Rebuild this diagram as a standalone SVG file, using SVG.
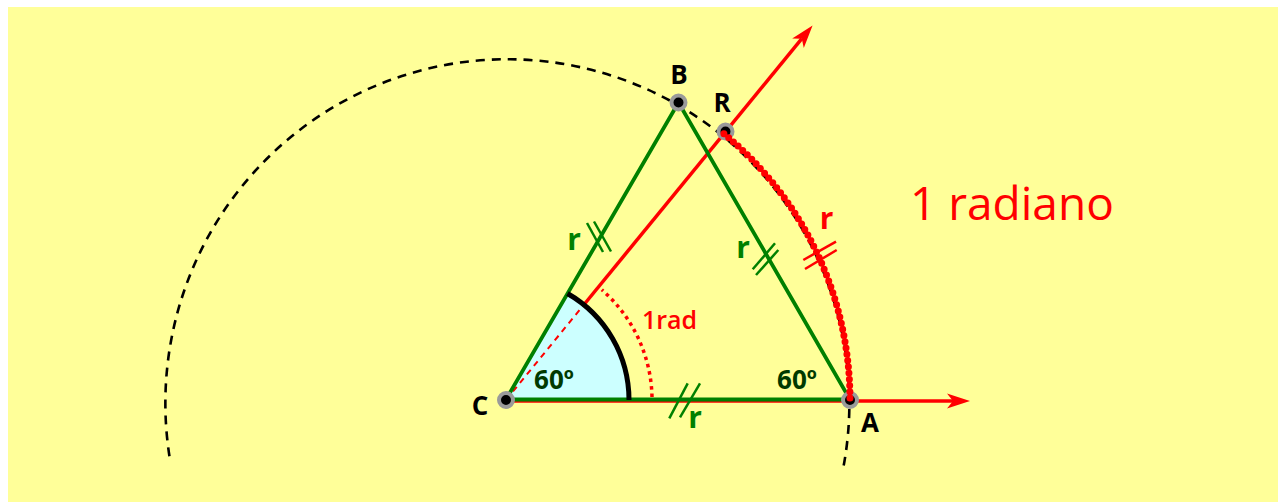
<svg xmlns="http://www.w3.org/2000/svg" width="1278" height="502" viewBox="0 0 1278 502">
<style>
.lbl{font-family:"Open Sans","DejaVu Sans",sans-serif;font-weight:bold;font-size:26px;fill:#000;text-anchor:middle}
.rg{font-family:"Open Sans","DejaVu Sans",sans-serif;font-weight:bold;font-size:30px;fill:#008000;text-anchor:middle}
.rr{font-family:"Open Sans","DejaVu Sans",sans-serif;font-weight:bold;font-size:30px;fill:#ff0000;text-anchor:middle}
.ang{font-family:"Open Sans","DejaVu Sans",sans-serif;font-weight:bold;font-size:26px;fill:#003a00;text-anchor:middle}
.hg{stroke:#008000;stroke-width:2.5;fill:none}
.hr{stroke:#ff0000;stroke-width:2.5;fill:none}
.pt{fill:#000;stroke:#9a9a9a;stroke-width:4}
</style>
<defs>
<marker id="arr" markerUnits="userSpaceOnUse" viewBox="-8 -9 26 18" refX="0" refY="0" markerWidth="26" markerHeight="18" orient="auto" overflow="visible">
<path d="M17,0 L-6,-7.5 L0,0 L-6,7.5 Z" fill="#ff0000"/>
</marker>
</defs>
<rect x="8" y="7" width="1270" height="495" fill="#ffff99"/>
<path id="sector" d="M506,400 L630,400 A124,124 0 0 0 568,292.6 Z" fill="#ccffff"/>
<g id="connectors">
<path d="M843.7,465.6 A342,344 0 1 0 170,459.7" fill="none" stroke="#000" stroke-width="2.6" stroke-dasharray="9 7"/>
<line x1="506" y1="401" x2="953" y2="401" stroke="#ff0000" stroke-width="3.5" marker-end="url(#arr)"/>
<line x1="506" y1="400" x2="584.5" y2="304" stroke="#ff0000" stroke-width="2" stroke-dasharray="6 5"/>
<line x1="584.5" y1="304" x2="801.8" y2="38.7" stroke="#ff0000" stroke-width="3.5" marker-end="url(#arr)"/>
<polygon points="506,399.5 678.5,102.5 850,399.5" fill="none" stroke="#008000" stroke-width="3.8"/>
<path d="M629,400 A123,123 0 0 0 567.5,293.5" fill="none" stroke="#000" stroke-width="5"/>
<path d="M652,397 A146,146 0 0 0 601.8,289.8" fill="none" stroke="#ff0000" stroke-width="3.5" stroke-dasharray="3.5 4"/>
<line class="hg" x1="587" y1="223" x2="603" y2="252"/>
<line class="hg" x1="594" y1="221.5" x2="611" y2="251.5"/>
<line class="hg" x1="752.7" y1="269.3" x2="775" y2="243.3"/>
<line class="hg" x1="756" y1="275" x2="778.3" y2="250"/>
<line class="hg" x1="669.3" y1="418.3" x2="687.7" y2="383.3"/>
<line class="hg" x1="680" y1="417.3" x2="700" y2="383.3"/>
<line class="hr" x1="803.3" y1="260" x2="836" y2="241.7"/>
<line class="hr" x1="805" y1="269" x2="836.7" y2="250"/>
</g>
<g id="C"><circle class="pt" cx="506" cy="400" r="7"/><text class="lbl" x="480" y="415">C</text></g>
<g id="A"><circle class="pt" cx="850" cy="400" r="7"/><text class="lbl" x="870" y="432">A</text></g>
<g id="B"><circle class="pt" cx="678.5" cy="102.5" r="7"/><text class="lbl" x="679" y="84">B</text></g>
<g id="R"><circle class="pt" cx="725.5" cy="131.5" r="7"/><text class="lbl" x="722" y="112">R</text></g>
<path id="arcRA" d="M723.9,133.8 A344,344 0 0 1 850,400" fill="none" stroke="#ff0000" stroke-width="7" stroke-linecap="round" stroke-dasharray="0 6.3"/>
<g id="labels">
<text class="rg" x="574" y="250">r</text>
<text class="rg" x="743" y="258">r</text>
<text class="rg" x="695" y="428">r</text>
<text class="rr" x="826.5" y="229">r</text>
<text class="ang" x="554" y="389">60º</text>
<text class="ang" x="797" y="389">60º</text>
<text x="642" y="329" font-family="Open Sans, DejaVu Sans, sans-serif" font-size="25" font-weight="600" fill="#ff0000">1rad</text>
<text x="910" y="220" font-family="Open Sans, DejaVu Sans, sans-serif" font-size="46" font-weight="500" fill="#ff0000">1 radiano</text>
</g>
</svg>
